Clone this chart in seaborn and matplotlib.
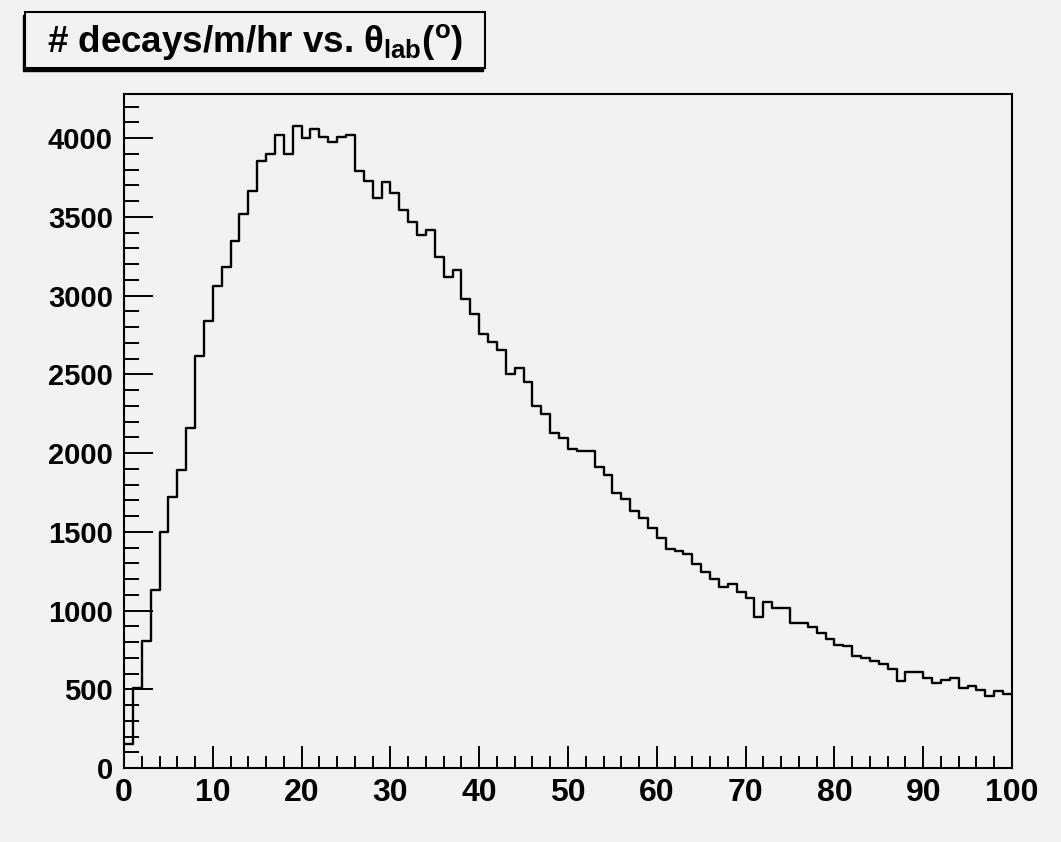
import numpy as np
import pandas as pd
import matplotlib
matplotlib.use("Agg")
import matplotlib.pyplot as plt
import seaborn as sns
from matplotlib.patches import Rectangle

# ---- data ----
bin_edges = list(range(0, 101))
counts = [
    150, 510, 807, 1129, 1499, 1722, 1891, 2162, 2617, 2840,
    3062, 3183, 3348, 3515, 3664, 3856, 3901, 4018, 3896, 4078,
    4002, 4060, 4008, 3973, 4009, 4021, 3792, 3728, 3618, 3724,
    3654, 3545, 3470, 3383, 3416, 3246, 3115, 3161, 2978, 2882,
    2759, 2702, 2654, 2501, 2539, 2454, 2300, 2247, 2130, 2098,
    2024, 2015, 2010, 1914, 1863, 1749, 1707, 1633, 1589, 1526,
    1463, 1389, 1379, 1358, 1298, 1247, 1199, 1150, 1171, 1120,
    1078, 959, 1057, 1015, 1015, 920, 923, 893, 855, 820,
    778, 775, 712, 697, 680, 659, 627, 553, 612, 610,
    574, 542, 557, 574, 510, 521, 494, 457, 489, 468,
]
x_ticks = [0, 10, 20, 30, 40, 50, 60, 70, 80, 90, 100]
y_ticks = [0, 500, 1000, 1500, 2000, 2500, 3000, 3500, 4000]
title = "# decays/m/hr vs. $\\theta_{\\mathrm{lab}}(^{\\mathrm{o}})$"

# ---- style ----
sns.set_theme(style="white")
plt.rcParams['font.family'] = ['Liberation Sans', 'DejaVu Sans']
plt.rcParams['font.weight'] = 'bold'
plt.rcParams['mathtext.fontset'] = 'custom'
plt.rcParams['mathtext.rm'] = 'Liberation Sans:bold'
plt.rcParams['mathtext.it'] = 'Liberation Sans'
plt.rcParams['mathtext.bf'] = 'Liberation Sans:bold'

bg = '#f2f2f2'
W, H = 1061, 842
fig = plt.figure(figsize=(W / 100, H / 100), dpi=100, facecolor=bg)
ax = fig.add_axes([124 / W, 1 - 768 / H, (1012 - 124) / W, (768 - 94) / H])
ax.set_facecolor(bg)

df = pd.DataFrame({'theta': np.array(bin_edges[:-1]) + 0.5, 'n': counts})
sns.histplot(data=df, x='theta', weights='n', bins=bin_edges, element='step',
             fill=False, color='black', linewidth=1.7, ax=ax)

ax.set_xlim(0, 100)
ax.set_ylim(0, 4280)
ax.set_xlabel('')
ax.set_ylabel('')
ax.set_xticks(x_ticks)
ax.set_xticks(np.arange(0, 101, 2), minor=True)
ax.set_yticks(y_ticks)
ax.set_yticks(np.arange(0, 4281, 100), minor=True)
ax.tick_params(axis='both', which='both', direction='in', top=False, right=False,
               bottom=True, left=True, color='black', labelcolor='black', width=1.4)
ax.tick_params(axis='y', which='major', length=21, pad=8, labelsize=21)
ax.tick_params(axis='y', which='minor', length=11)
ax.tick_params(axis='x', which='major', length=16, pad=7, labelsize=23)
ax.tick_params(axis='x', which='minor', length=9)
for s in ax.spines.values():
    s.set_visible(True)
    s.set_color('black')
    s.set_linewidth(1.5)

# ---- title box ----
bx0, by0, bx1, by1 = 25, 12, 485, 68
shadow = Rectangle(((bx0 - 2) / W, 1 - (by1 + 3) / H), (bx1 - bx0) / W, (by1 - by0) / H,
                   transform=fig.transFigure, facecolor='black', edgecolor='black', lw=1)
box = Rectangle((bx0 / W, 1 - by1 / H), (bx1 - bx0) / W, (by1 - by0) / H,
                transform=fig.transFigure, facecolor=bg, edgecolor='black', lw=1.5)
fig.patches.extend([shadow, box])
fig.text((bx0 + bx1) / 2 / W, 1 - 42 / H, title, ha='center', va='center',
         fontsize=26.5, fontweight='bold', color='black')

fig.savefig('out.png', dpi=100, facecolor=bg)
